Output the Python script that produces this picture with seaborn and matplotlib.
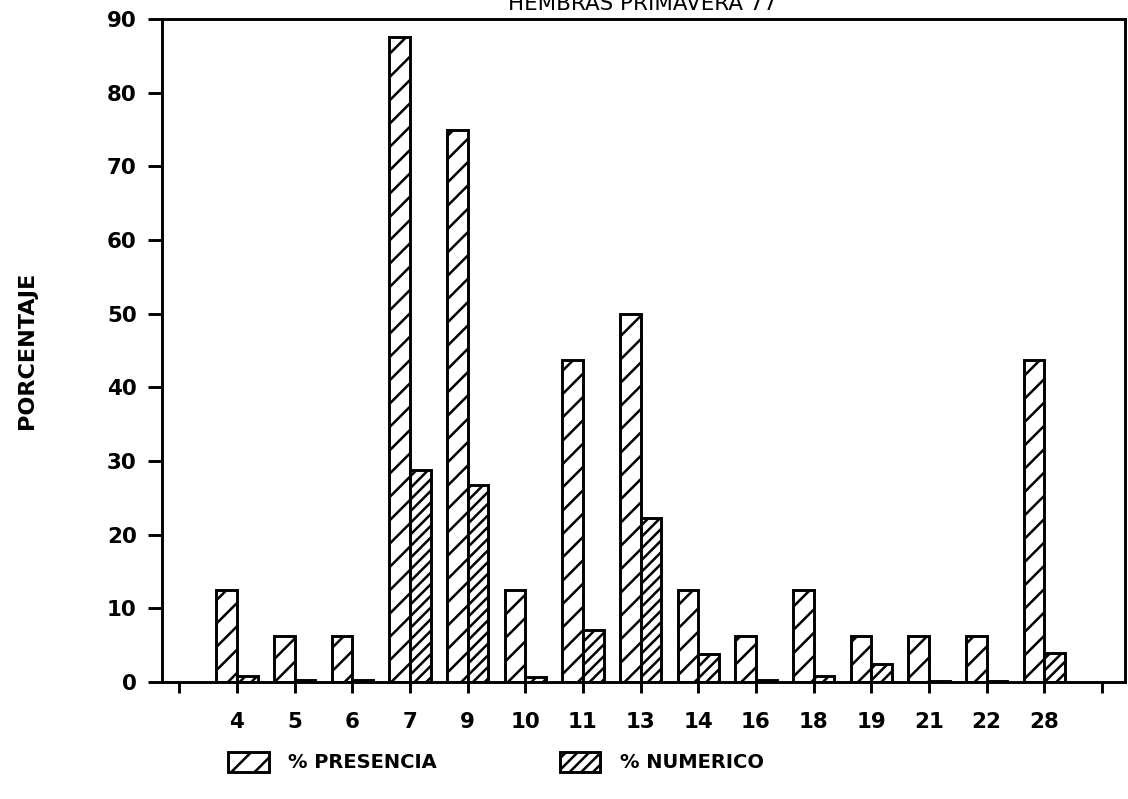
import pandas as pd
import matplotlib.pyplot as plt
import matplotlib.patches as mpatches
import seaborn as sns

# data
categorias = ["4", "5", "6", "7", "9", "10", "11", "13", "14", "16", "18", "19", "21", "22", "28"]
presencia = [12.5, 6.25, 6.25, 87.5, 75.0, 12.5, 43.75, 50.0, 12.5, 6.25, 12.5, 6.25, 6.25, 6.25, 43.75]
numerico = [0.8, 0.3, 0.3, 28.8, 26.8, 0.7, 7.0, 22.2, 3.8, 0.3, 0.8, 2.5, 0.2, 0.2, 4.0]
series = ["% PRESENCIA", "% NUMERICO"]

df = pd.DataFrame({
    "talla": categorias * 2,
    "valor": presencia + numerico,
    "serie": [series[0]] * len(categorias) + [series[1]] * len(categorias),
})

sns.set_style("ticks")
plt.rcParams["font.family"] = ["DejaVu Sans"]
plt.rcParams["hatch.linewidth"] = 1.3
plt.rcParams["hatch.color"] = "black"
plt.rcParams["text.color"] = "black"
plt.rcParams["axes.labelcolor"] = "black"
plt.rcParams["xtick.color"] = "black"
plt.rcParams["ytick.color"] = "black"
plt.rcParams["axes.edgecolor"] = "black"

dpi = 140
fig = plt.figure(figsize=(1128 / dpi, 799 / dpi), dpi=dpi)
ax = fig.add_axes([162 / 1128, 1 - 682 / 799, (1125 - 162) / 1128, (682 - 19) / 799])

# empty slots at both ends to get the blank ticks
orden = [" "] + categorias + ["  "]
sns.barplot(data=df, x="talla", y="valor", hue="serie", order=orden,
            hue_order=series, palette=["white", "white"], width=0.72,
            edgecolor="black", linewidth=1.5, saturation=1, legend=False, ax=ax)

hatches = {series[0]: "//", series[1]: "////"}
for cont, s in zip(ax.containers, series):
    for bar in cont:
        bar.set_hatch(hatches[s])

ax.set_ylim(0, 90)
ax.set_xlim(-0.30, 16.4)
ax.set_yticks(range(0, 91, 10))
ax.set_xlabel("")
ax.set_ylabel("PORCENTAJE", fontsize=11.5, fontweight="bold", labelpad=36)
for sp in ax.spines.values():
    sp.set_linewidth(1.5)
    sp.set_visible(True)
ax.tick_params(axis="y", length=7, width=1.5, labelsize=11, pad=6)
ax.tick_params(axis="x", length=5.5, width=1.5, labelsize=11, pad=10)
for lab in ax.get_xticklabels() + ax.get_yticklabels():
    lab.set_fontweight("bold")

fig.text(0.57, 1 - 10 / 799, "HEMBRAS PRIMAVERA 77", ha="center", va="baseline", fontsize=11)

handles = [mpatches.Patch(facecolor="white", edgecolor="black", linewidth=1.5, hatch=hatches[s]) for s in series]
fig.legend(handles, series, loc="center left", bbox_to_anchor=(228 / 1128, 1 - 762 / 799),
           ncol=2, frameon=False, handlelength=2.1, handleheight=1.2,
           handletextpad=1.0, columnspacing=6.3, borderpad=0, borderaxespad=0,
           prop={"weight": "bold", "size": 10})

plt.savefig("out.png", dpi=dpi)
plt.close()
